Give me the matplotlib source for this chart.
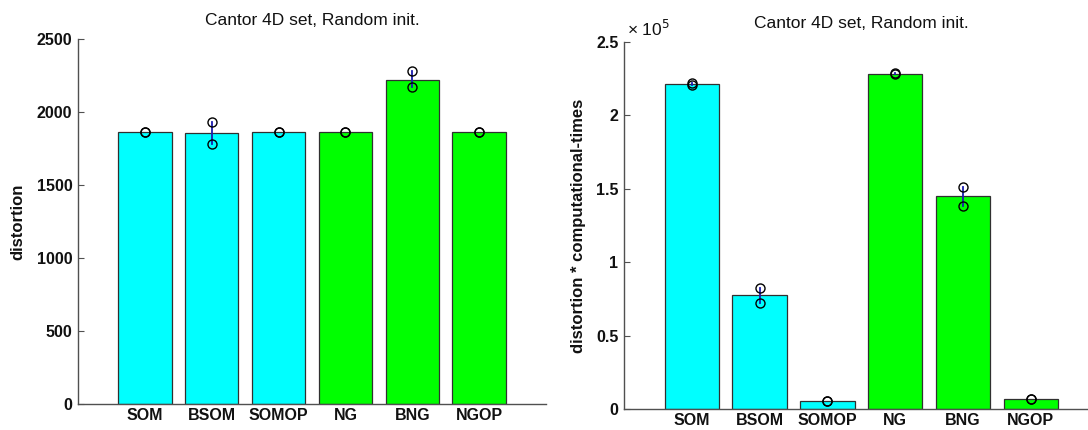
import matplotlib
matplotlib.use("Agg")
import matplotlib.pyplot as plt
from matplotlib.ticker import FuncFormatter

categories = ["SOM", "BSOM", "SOMOP", "NG", "BNG", "NGOP"]
bar_colors = ["#00ffff", "#00ffff", "#00ffff", "#00ff00", "#00ff00", "#00ff00"]

distortion = [1862, 1855, 1862, 1862, 2222, 1862]
distortion_lo = [1864, 1783, 1864, 1864, 2170, 1864]
distortion_hi = [1866, 1930, 1866, 1866, 2278, 1866]

dist_time = [221400, 77700, 5400, 228000, 144800, 7000]
dist_time_lo = [220800, 72100, 5300, 227900, 138300, 6900]
dist_time_hi = [222300, 82300, 5500, 228600, 151400, 7100]

title = "Cantor 4D set, Random init."
ylabel_left = "distortion"
ylabel_right = "distortion * computational-times"
left_ticks = [0, 500, 1000, 1500, 2000, 2500]
right_ticks = [0, 50000, 100000, 150000, 200000, 250000]

plt.rcParams['font.family'] = ['Liberation Sans', 'DejaVu Sans']

fig = plt.figure(figsize=(10.88, 4.30), dpi=100)
ax1 = fig.add_axes([78/1088, 1-404/430, 468/1088, (404-39)/430])
ax2 = fig.add_axes([624/1088, 1-409/430, 474.6/1088, (409-42)/430])

spine_col = "#505050"
err_col = "#1c1cb0"
txt_col = "#111111"

def draw(ax, vals, lo, hi, ymax, ticks, ylabel):
    x = list(range(1, len(categories) + 1))
    ax.bar(x, vals, width=0.8, color=bar_colors, edgecolor="#303030", linewidth=0.9, zorder=2)
    for xi, l, h in zip(x, lo, hi):
        ax.plot([xi, xi], [l, h], color=err_col, lw=1.3, zorder=3)
        ax.plot([xi, xi], [l, h], ls='none', marker='o', ms=6.5, mfc='none',
                mec='black', mew=1.0, zorder=4)
    ax.set_xlim(0, 7)
    ax.set_ylim(0, ymax)
    ax.set_xticks(x)
    ax.set_xticklabels(categories, fontsize=11.5, fontweight='bold', color=txt_col)
    ax.set_yticks(ticks)
    for s in ['top', 'right']:
        ax.spines[s].set_visible(False)
    for s in ['left', 'bottom']:
        ax.spines[s].set_color(spine_col)
        ax.spines[s].set_linewidth(1.0)
    ax.tick_params(axis='x', length=0, pad=3)
    ax.tick_params(axis='y', direction='in', length=4, color=spine_col, labelsize=11.5, pad=4)
    ax.set_title(title, fontsize=12.5, pad=10, color=txt_col)
    ax.set_ylabel(ylabel, fontsize=12, fontweight='bold', color=txt_col)

draw(ax1, distortion, distortion_lo, distortion_hi, 2500, left_ticks, ylabel_left)
draw(ax2, dist_time, dist_time_lo, dist_time_hi, 250000, right_ticks, ylabel_right)

ax2.yaxis.set_major_formatter(FuncFormatter(lambda v, p: f"{v/1e5:g}"))
for ax in (ax1, ax2):
    for t in ax.get_yticklabels():
        t.set_fontweight('bold')
        t.set_color(txt_col)
ax2.text(0.006, 1.008, "× 10$^5$", transform=ax2.transAxes, fontsize=12.5,
         ha='left', va='bottom', color=txt_col)

ax1.yaxis.set_label_coords(-0.113, 0.5)
ax2.yaxis.set_label_coords(-0.08, 0.5)

fig.savefig("out.png", dpi=100)
